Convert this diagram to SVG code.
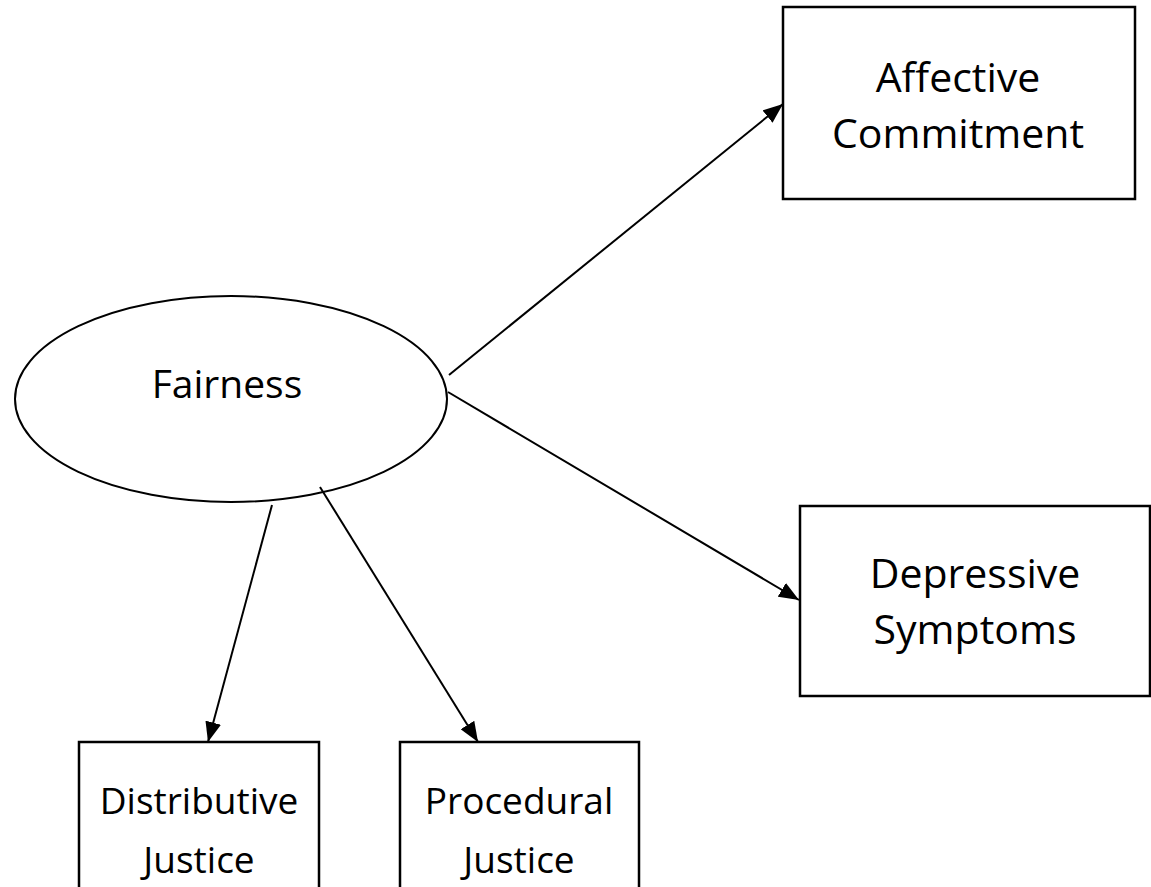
<svg xmlns="http://www.w3.org/2000/svg" width="1151" height="887" viewBox="0 0 1151 887">
<defs>
<marker id="arr" markerUnits="userSpaceOnUse" markerWidth="22" markerHeight="16" refX="20" refY="8" orient="auto">
<path d="M0,0 L20,8 L0,16 Z" fill="#000"/>
</marker>
<style>
.box{fill:#fff;stroke:#000;stroke-width:2.5}
.lbl{font-family:"Open Sans","Liberation Sans",sans-serif;fill:#000;text-anchor:middle}
.edge{stroke:#000;stroke-width:2;fill:none;marker-end:url(#arr)}
</style>
</defs>
<rect width="1151" height="887" fill="#fff"/>
<g id="fairness">
<ellipse cx="231" cy="399" rx="216" ry="103" fill="#fff" stroke="#000" stroke-width="2"/>
<text class="lbl" x="227" y="398" font-size="39">Fairness</text>
</g>
<g id="affective">
<rect class="box" x="783" y="7" width="352" height="192"/>
<text class="lbl" x="958" y="92" font-size="41">Affective</text>
<text class="lbl" x="958" y="148" font-size="41">Commitment</text>
</g>
<g id="depressive">
<rect class="box" x="800" y="506" width="350" height="190"/>
<text class="lbl" x="975" y="588" font-size="41">Depressive</text>
<text class="lbl" x="975" y="644" font-size="41">Symptoms</text>
</g>
<g id="distributive">
<rect class="box" x="79" y="742" width="240" height="160"/>
<text class="lbl" x="199" y="814" font-size="37">Distributive</text>
<text class="lbl" x="199" y="873" font-size="37">Justice</text>
</g>
<g id="procedural">
<rect class="box" x="400" y="742" width="239" height="160"/>
<text class="lbl" x="519" y="814" font-size="37">Procedural</text>
<text class="lbl" x="519" y="873" font-size="37">Justice</text>
</g>
<g id="connectors">
<line class="edge" x1="449" y1="375" x2="783" y2="104"/>
<line class="edge" x1="448" y1="392" x2="799" y2="600"/>
<line class="edge" x1="272" y1="505" x2="208" y2="742"/>
<line class="edge" x1="320" y1="487" x2="478" y2="742"/>
</g>
</svg>
